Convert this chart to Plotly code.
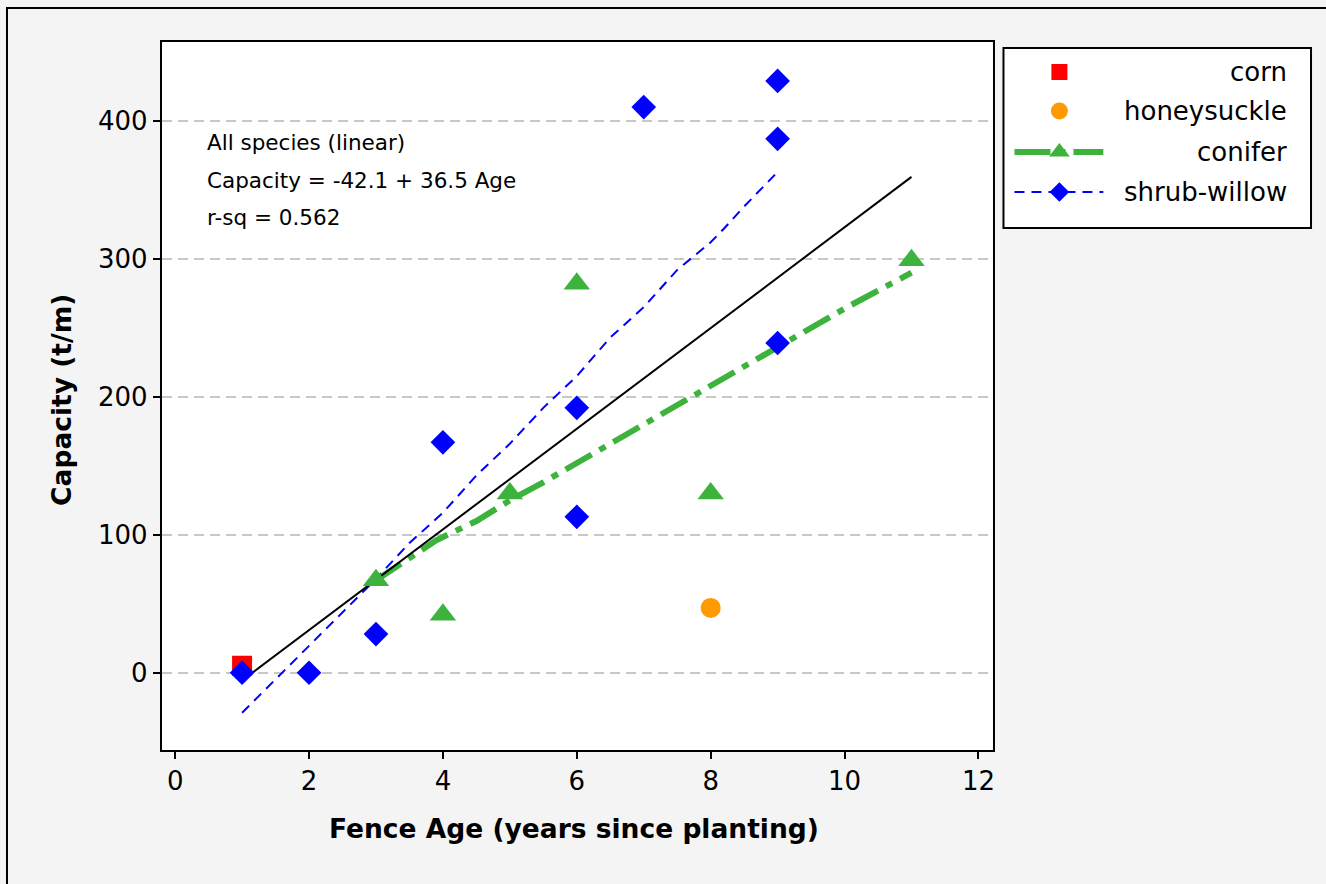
import plotly.graph_objects as go

# ---- data -------------------------------------------------------------
corn_age = [1]
corn_cap = [5]

honeysuckle_age = [8]
honeysuckle_cap = [47]

conifer_age = [3, 4, 5, 6, 8, 11]
conifer_cap = [67, 42, 130, 282, 130, 299]

willow_age = [1, 2, 3, 4, 6, 6, 7, 9, 9, 9]
willow_cap = [0, 0, 28, 167, 192, 113, 410, 429, 387, 239]

# smoothed trends per species
conifer_fit_age = [3, 3.5, 3.9, 4.5, 5, 5.5, 6, 6.5, 7, 7.6, 8, 8.5, 9, 10, 11]
conifer_fit_cap = [67, 83, 96, 110, 125, 138, 152, 166, 180, 197, 208, 222, 237, 264, 290]

willow_fit_age = [1, 1.35, 1.6, 2, 2.5, 3, 3.5, 4, 4.5, 5, 5.5, 6, 6.5, 7, 7.5, 8, 8.2, 8.5, 9]
willow_fit_cap = [-29, -12, 0, 20, 44, 68, 94, 116, 143, 166, 192, 215, 243, 265, 292, 312, 322, 338, 363]

# all-species linear regression
lin_intercept = -42.1
lin_slope = 36.5
lin_rsq = 0.562
lin_age = [1, 11]

x_ticks = [0, 2, 4, 6, 8, 10, 12]
y_ticks = [0, 100, 200, 300, 400]

# ---- styling ----------------------------------------------------------
W, H = 1326, 884
FONT = "DejaVu Sans"
RED = "#FF0000"
ORANGE = "#FF9A00"
GREEN = "#3DB33D"
BLUE = "#0000FF"
CONIFER_DASH = "30px,9px,7px,9px"
WILLOW_DASH = "10px,7px"


def fx(p):
    return p / W


def fy(p):
    return 1 - p / H


fig = go.Figure()

# trend lines (beneath the markers)
fig.add_trace(go.Scatter(x=willow_fit_age, y=willow_fit_cap, mode="lines",
                         line=dict(color=BLUE, width=2, dash=WILLOW_DASH)))
fig.add_trace(go.Scatter(x=conifer_fit_age, y=conifer_fit_cap, mode="lines",
                         line=dict(color=GREEN, width=6, dash=CONIFER_DASH)))
lin_cap = [lin_intercept + lin_slope * a for a in lin_age]
fig.add_trace(go.Scatter(x=lin_age, y=lin_cap, mode="lines",
                         line=dict(color="black", width=2)))

# observations
fig.add_trace(go.Scatter(x=corn_age, y=corn_cap, mode="markers",
                         marker=dict(symbol="square", size=20, color=RED)))
fig.add_trace(go.Scatter(x=honeysuckle_age, y=honeysuckle_cap, mode="markers",
                         marker=dict(symbol="circle", size=20, color=ORANGE)))
fig.add_trace(go.Scatter(x=conifer_age, y=conifer_cap, mode="markers",
                         marker=dict(symbol="triangle-up", size=23, color=GREEN)))
fig.add_trace(go.Scatter(x=willow_age, y=willow_cap, mode="markers",
                         marker=dict(symbol="diamond", size=19, color=BLUE)))

# ---- legend drawn on its own small axes --------------------------------
LX0, LX1, LY0, LY1 = 1005, 1313, 48, 228
leg_names = ["corn", "honeysuckle", "conifer", "shrub-willow"]
leg_rows = [72, 111, 152, 192]
sym_x = 1061
line_x = [1016, 1105]

fig.add_trace(go.Scatter(x=[sym_x], y=[leg_rows[0]], xaxis="x2", yaxis="y2", mode="markers",
                         marker=dict(symbol="square", size=16, color=RED)))
fig.add_trace(go.Scatter(x=[sym_x], y=[leg_rows[1]], xaxis="x2", yaxis="y2", mode="markers",
                         marker=dict(symbol="circle", size=17, color=ORANGE)))
fig.add_trace(go.Scatter(x=line_x, y=[leg_rows[2]] * 2, xaxis="x2", yaxis="y2", mode="lines",
                         line=dict(color=GREEN, width=6, dash="36px,8px,7px,8px")))
fig.add_trace(go.Scatter(x=[sym_x], y=[leg_rows[2]], xaxis="x2", yaxis="y2", mode="markers",
                         marker=dict(symbol="triangle-up", size=18, color=GREEN)))
fig.add_trace(go.Scatter(x=line_x, y=[leg_rows[3]] * 2, xaxis="x2", yaxis="y2", mode="lines",
                         line=dict(color=BLUE, width=2, dash=WILLOW_DASH)))
fig.add_trace(go.Scatter(x=[sym_x], y=[leg_rows[3]], xaxis="x2", yaxis="y2", mode="markers",
                         marker=dict(symbol="diamond", size=15, color=BLUE)))

annotations = []
for name, row in zip(leg_names, leg_rows):
    annotations.append(dict(x=1291, y=row, xref="x2", yref="y2", text=name, showarrow=False,
                            xanchor="right", yanchor="middle",
                            font=dict(family=FONT, size=26, color="black")))

# regression label
reg_lines = [
    "All species (linear)",
    f"Capacity = {lin_intercept} + {lin_slope} Age",
    f"r-sq = {lin_rsq}",
]
for txt, py in zip(reg_lines, [143, 181, 217]):
    annotations.append(dict(x=fx(205), y=fy(py), xref="paper", yref="paper", text=txt,
                            showarrow=False, xanchor="left", yanchor="middle",
                            font=dict(family=FONT, size=21.5, color="black")))

# axis titles
annotations.append(dict(x=fx(575), y=fy(828), xref="paper", yref="paper",
                        text="<b>Fence Age (years since planting)</b>", showarrow=False,
                        xanchor="center", yanchor="middle",
                        font=dict(family=FONT, size=26.5, color="black")))
annotations.append(dict(x=fx(62), y=fy(400), xref="paper", yref="paper",
                        text="<b>Capacity (t/m)</b>", showarrow=False, textangle=-90,
                        xanchor="center", yanchor="middle",
                        font=dict(family=FONT, size=26.5, color="black")))

shapes = [
    # outer frame
    dict(type="rect", xref="paper", yref="paper", x0=fx(7), y0=fy(8), x1=fx(1340), y1=fy(900),
         line=dict(color="black", width=2), fillcolor="rgba(0,0,0,0)", layer="below"),
    # legend box
    dict(type="rect", xref="paper", yref="paper", x0=fx(LX0), y0=fy(LY0), x1=fx(LX1), y1=fy(LY1),
         line=dict(color="black", width=2), fillcolor="white", layer="below"),
]

fig.update_layout(
    width=W, height=H,
    margin=dict(l=0, r=0, t=0, b=0),
    paper_bgcolor="#F4F4F4",
    plot_bgcolor="white",
    showlegend=False,
    font=dict(family=FONT, size=26, color="black"),
    annotations=annotations,
    shapes=shapes,
    xaxis=dict(domain=[fx(162), fx(994)], range=[-0.2, 12.21], tickvals=x_ticks,
               ticks="outside", ticklen=7, tickwidth=2, tickcolor="black",
               showline=True, linewidth=2, linecolor="black", mirror=True,
               showgrid=False, zeroline=False, tickfont=dict(family=FONT, size=26)),
    yaxis=dict(domain=[fy(750), fy(42)], range=[-56, 457.2], tickvals=y_ticks,
               ticks="outside", ticklen=7, tickwidth=2, tickcolor="black",
               showline=True, linewidth=2, linecolor="black", mirror=True,
               showgrid=True, gridcolor="#C8C8C8", gridwidth=2, griddash="10px,6px",
               zeroline=False, tickfont=dict(family=FONT, size=26)),
    xaxis2=dict(domain=[fx(LX0), fx(LX1)], range=[LX0, LX1], anchor="y2", visible=False),
    yaxis2=dict(domain=[fy(LY1), fy(LY0)], range=[LY1, LY0], anchor="x2", visible=False),
)

fig.write_html("out.html")
